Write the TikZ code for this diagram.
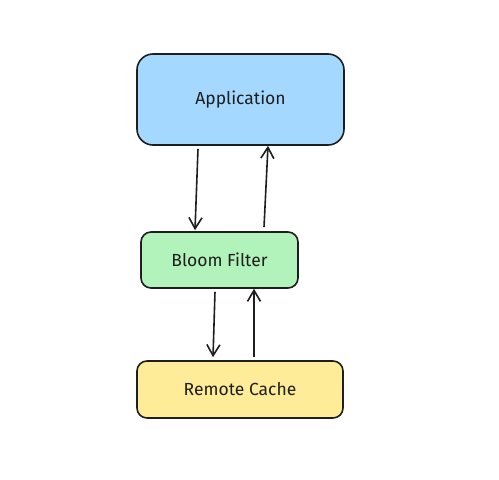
\documentclass[tikz,border=0pt]{standalone}
\usepackage{fontspec}
\setmainfont{Fira Sans}
\usetikzlibrary{arrows.meta}
\definecolor{ink}{HTML}{1E1E1E}
\definecolor{appblue}{HTML}{A5D8FF}
\definecolor{bfgreen}{HTML}{B2F2BB}
\definecolor{rcyellow}{HTML}{FFEC99}
\tikzset{
  box/.style={draw=ink, line width=1.6pt, inner sep=0pt, font=\fontsize{17.5}{20}\selectfont, text=ink},
  conn/.style={draw=ink, line width=1.6pt, -{Straight Barb[length=11pt,width=13pt,line width=1.6pt]}},
}
\begin{document}
\begin{tikzpicture}[x=1pt,y=-1pt]
\useasboundingbox[fill=white] (0,0) rectangle (499,480);
\node[box, fill=appblue, rounded corners=16pt, minimum width=207pt, minimum height=91pt] (app) at (240.5,99.5) {Application};
\node[box, fill=bfgreen, rounded corners=10pt, minimum width=157pt, minimum height=56pt] (bf) at (219.5,260) {Bloom Filter};
\node[box, fill=rcyellow, rounded corners=10pt, minimum width=206pt, minimum height=57pt] (rc) at (240,389.5) {Remote Cache};
\draw[conn] ([xshift=-42.5pt,yshift=-3pt]app.south) -- ([xshift=-24.5pt,yshift=1pt]bf.north);
\draw[conn] ([xshift=44.5pt,yshift=4pt]bf.north) -- ([xshift=27.5pt]app.south);
\draw[conn] ([xshift=-4.5pt,yshift=-3pt]bf.south) -- ([xshift=-27pt,yshift=3pt]rc.north);
\draw[conn] ([xshift=14pt,yshift=3pt]rc.north) -- ([xshift=34.5pt]bf.south);
\end{tikzpicture}
\end{document}
